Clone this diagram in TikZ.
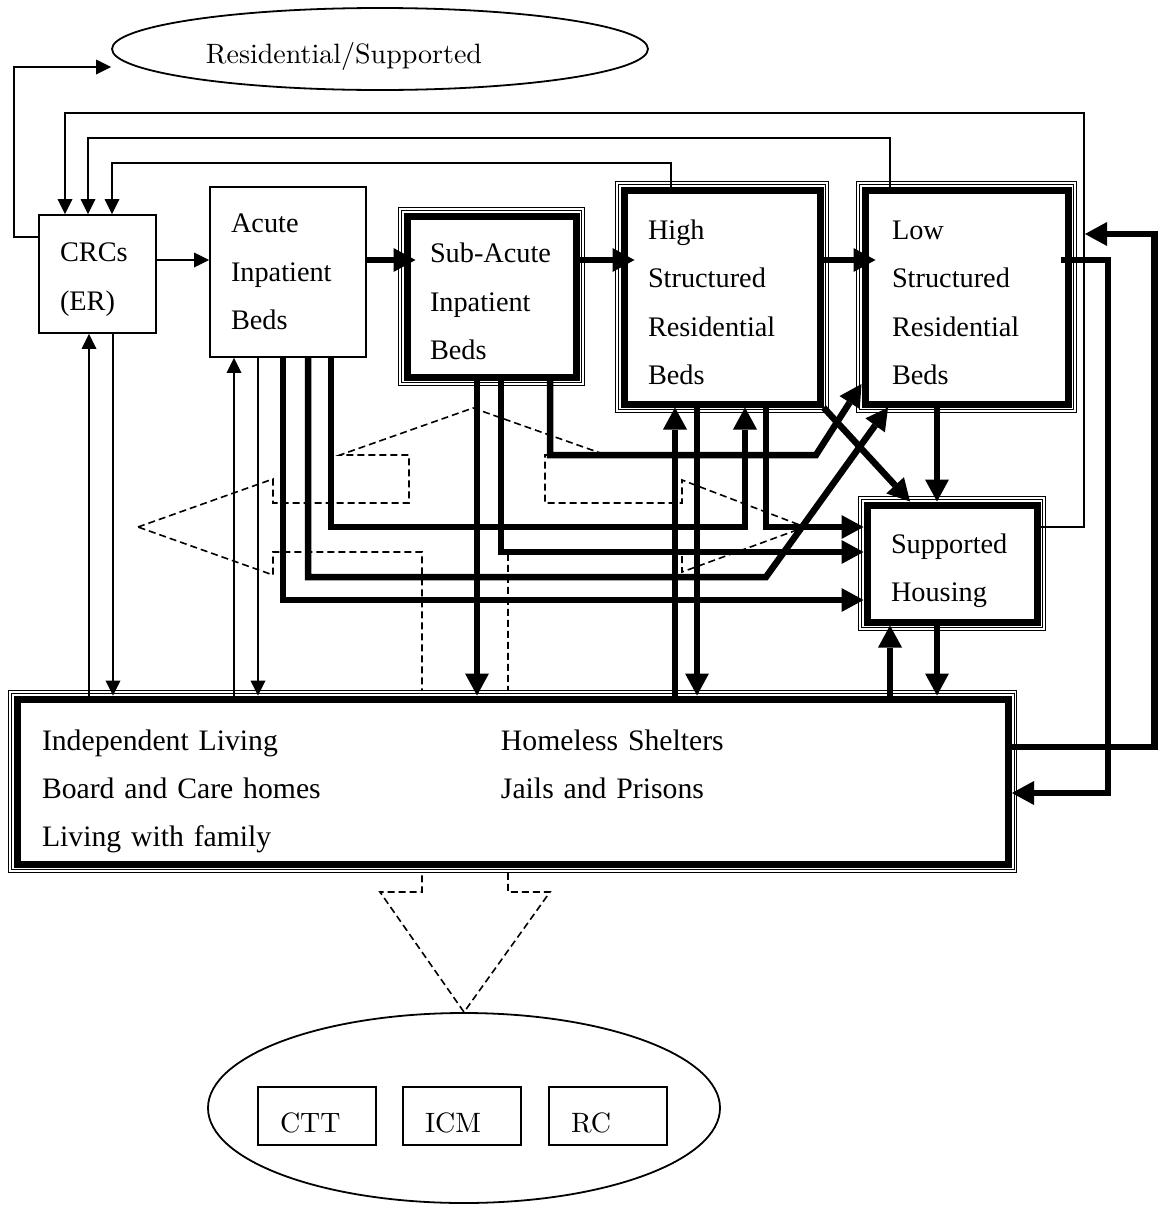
\documentclass[tikz,border=0pt]{standalone}
\usepackage{fontspec}
\newfontfamily\tnr{Liberation Serif}
\newfontfamily\lmten{lmroman10-regular.otf}
\usetikzlibrary{arrows.meta,shapes.geometric,calc}
\pgfdeclarelayer{bg}
\pgfdeclarelayer{mid}
\pgfsetlayers{bg,mid,main}
\newcommand\firstln{\rule{0pt}{30pt}}
\begin{document}
\begin{tikzpicture}[x=1pt,y=-1pt,
  thinln/.style={line width=1.8pt},
  thk/.style={line width=6.5pt},
  tarr/.style={-{Triangle[length=15pt,width=15pt,line width=0pt]}},
  karr/.style={-{Triangle[length=22pt,width=24pt,line width=0pt]}},
  bx/.style={rectangle, draw, fill=white, line width=1.8pt, align=left, inner ysep=0pt,
    font=\tnr\fontsize{28.3pt}{48.5pt}\selectfont},
  tri/.style={bx, line width=7pt},
  sbx/.style={rectangle, draw, line width=1.8pt, minimum width=118pt, minimum height=58pt,
    text width=74pt, inner xsep=22pt, align=left, font=\lmten\fontsize{28pt}{34pt}\selectfont},
  dsh/.style={line width=1.6pt, dash pattern=on 7pt off 4pt},
]
\useasboundingbox (0,0) rectangle (1158,1205);

% nodes
\node[ellipse, draw, line width=1.8pt, minimum width=536pt, minimum height=82pt,
  font=\lmten\fontsize{28pt}{34pt}\selectfont] (res) at (380,49)
  {\rule{0pt}{35pt}Residential/Supported\hspace*{72pt}};
\node[bx, minimum width=117pt, minimum height=118pt, text width=75pt, inner xsep=21pt] (crc) at (97.5,274) {\firstln CRCs\\(ER)};
\node[bx, minimum width=156pt, minimum height=170pt, text width=114pt, inner xsep=21pt] (acute) at (288,272) {Acute\\Inpatient\\Beds};
\node[tri, minimum width=169pt, minimum height=161pt, text width=123pt, inner xsep=23pt] (sub) at (491.5,296.5) {\firstln\mbox{Sub-Acute}\\Inpatient\\Beds};
\node[tri, minimum width=196pt, minimum height=214pt, text width=148pt, inner xsep=24pt] (high) at (722,297) {\firstln High\\Structured\\Residential\\Beds};
\node[tri, minimum width=203pt, minimum height=214pt, text width=149pt, inner xsep=27pt] (low) at (966.5,297) {\firstln Low\\Structured\\Residential\\Beds};
\node[tri, minimum width=170pt, minimum height=117pt, text width=122pt, inner xsep=24pt] (sup) at (952,563.5) {\rule{0pt}{34pt}Supported\\Housing};
\node[tri, minimum width=991.5pt, minimum height=165pt, text width=941.5pt, inner xsep=25pt,
  font=\tnr\fontsize{29.7pt}{48pt}\selectfont] (home) at (512.75,781.5)
  {\rule{0pt}{40pt}\makebox[459pt][l]{Independent Living}Homeless Shelters\\
   \makebox[459pt][l]{Board and Care homes}Jails and Prisons\\
   Living with family};
\node[ellipse, draw, line width=1.8pt, minimum width=512pt, minimum height=190pt] (svc) at (464,1108) {};
\node[sbx] (ctt) at (317,1116) {\rule{0pt}{33pt}CTT};
\node[sbx] (icm) at (462,1116) {\rule{0pt}{33pt}ICM};
\node[sbx] (rc) at (608,1116) {\rule{0pt}{33pt}RC};

% triple borders
\begin{pgfonlayer}{mid}
\foreach \n in {sub,high,low,sup,home}{
  \draw[line width=1.1pt, fill=white] ($(\n.north west)+(-4.8,-4.8)$) rectangle ($(\n.south east)+(4.8,4.8)$);
  \draw[line width=0.8pt] ($(\n.north west)+(-1.9,-1.9)$) rectangle ($(\n.south east)+(1.9,1.9)$);
}
\end{pgfonlayer}

% dashed block arrows
\begin{pgfonlayer}{bg}
\draw[dsh] (138,527) -- (273,479) -- (273,503) -- (409,503) -- (409,455) -- (340,455)
  -- (473,408) -- (606,455) -- (545,455) -- (545,503) -- (682,503) -- (682,480)
  -- (805,527) -- (682,572) -- (682,552) -- (508,552) -- (508,892) -- (550,892)
  -- (svc.north) -- (380,892) -- (422,892) -- (422,552) -- (273,552) -- (273,575) -- cycle;
\end{pgfonlayer}

% thin connectors
\draw[thinln, tarr] (crc.west |- 0,237) -- (14,237) -- (14,67) -- ($(res.west)+(0,18)$);
\draw[thinln, tarr] (sup.east |- 0,527) -- (1084,527) -- (1084,113) -- (65,113) -- (crc.north -| 65,0);
\draw[thinln, tarr] (low.north -| 890,0) -- (890,138) -- (88,138) -- (crc.north -| 88,0);
\draw[thinln, tarr] (high.north -| 671,0) -- (671,163) -- (112,163) -- (crc.north -| 112,0);
\draw[thinln, tarr] (crc.east |- 0,260) -- (acute.west |- 0,260);
\draw[thinln, tarr] (home.north -| 89,0) -- (crc.south -| 89,0);
\draw[thinln, tarr] (crc.south -| 113,0) -- (home.north -| 113,0);
\draw[thinln, tarr] (home.north -| 234,0) -- (acute.south -| 234,0);
\draw[thinln, tarr] (acute.south -| 258,0) -- (home.north -| 258,0);

% thick connectors
\draw[thk, karr, shorten >=-12pt] (acute.east |- 0,260) -- (sub.west |- 0,260);
\draw[thk, karr, shorten >=-14pt] (sub.east |- 0,260) -- (high.west |- 0,260);
\draw[thk, karr, shorten >=-14pt] (high.east |- 0,260) -- (low.west |- 0,260);
\draw[thk, karr] ($(low.east |- 0,260)+(-11,0)$) -- (1108,260) -- (1108,793) -- (home.east |- 0,793);
\draw[thk, karr, shorten >=13.5pt] (home.east |- 0,747) -- (1154.5,747) -- (1154.5,234) -- (low.east |- 0,234);
\draw[thk, karr] (acute.south -| 283,0) -- (283,600) -- (sup.west |- 0,600);
\draw[thk, karr] (acute.south -| 308,0) -- (308,577) -- (766,577) -- (low.south -| 888,0);
\draw[thk, karr] (acute.south -| 331,0) -- (331,527) -- (745,527) -- (high.south -| 745,0);
\draw[thk, karr] (sub.south -| 477,0) -- (home.north -| 477,0);
\draw[thk, karr] (sub.south -| 501,0) -- (501,552) -- (sup.west |- 0,552);
\draw[thk, karr] (sub.south -| 550,0) -- (550,455) -- (816,455) -- (low.west |- 0,384);
\draw[thk, karr] (home.north -| 675,0) -- (high.south -| 675,0);
\draw[thk, karr] (high.south -| 697,0) -- (home.north -| 697,0);
\draw[thk, karr] (high.south -| 766,0) -- (766,527) -- (sup.west |- 0,527);
\draw[thk, karr] (high.south east) -- (sup.north -| 910,0);
\draw[thk, karr] (low.south -| 937,0) -- (sup.north -| 937,0);
\draw[thk, karr] (home.north -| 890,0) -- (sup.south -| 890,0);
\draw[thk, karr] (sup.south -| 937,0) -- (home.north -| 937,0);
\end{tikzpicture}
\end{document}
